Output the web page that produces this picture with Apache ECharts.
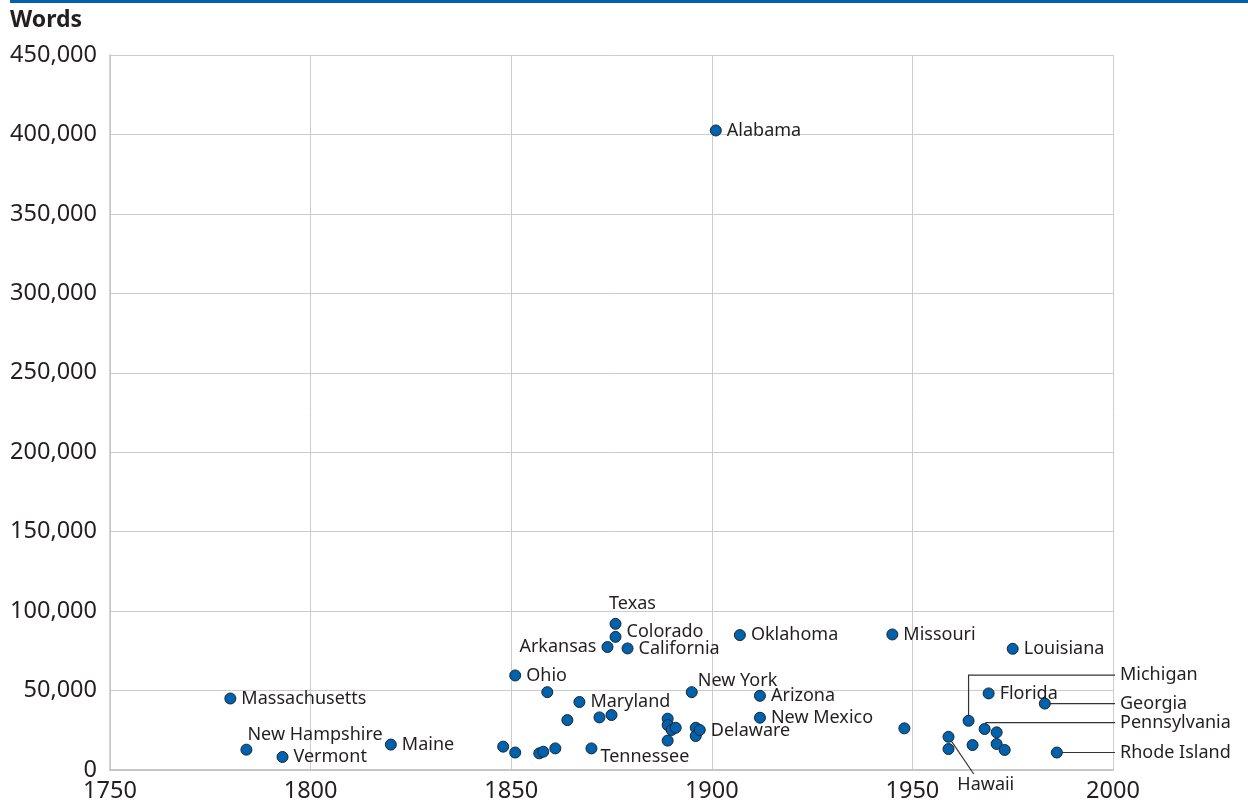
<!DOCTYPE html>
<html>
<head>
<meta charset="utf-8">
<title>Words in state constitutions</title>
<script src="https://cdn.jsdelivr.net/npm/echarts@6/dist/echarts.min.js"></script>
<style>
  html, body { margin: 0; padding: 0; background: #fff; }
  #chart { width: 1248px; height: 806px; }
</style>
</head>
<body>
<div id="chart"></div>
<script>
// Year each state constitution was adopted, and its length in words
const years = [
  1780, 1784, 1793, 1820, 1848, 1851, 1851, 1857, 1858, 1859,
  1861, 1864, 1867, 1870, 1872, 1874, 1875, 1876, 1876, 1879,
  1889, 1889, 1889, 1890, 1891, 1895, 1896, 1896, 1897, 1901,
  1907, 1912, 1912, 1945, 1948, 1959, 1959, 1964, 1965, 1968,
  1969, 1971, 1971, 1973, 1975, 1983, 1986
];
const wordCounts = [
  45000, 12800, 8200, 16000, 14700, 59500, 11000, 10500, 11500, 49000,
  13600, 31400, 42800, 13600, 33100, 77400, 34600, 92000, 83800, 76500,
  32300, 28300, 18500, 25200, 26600, 49000, 26600, 21400, 25200, 402500,
  84900, 46700, 32900, 85300, 26200, 20900, 13200, 31000, 15700, 25800,
  48200, 23700, 16400, 12600, 76300, 41800, 11000
];
const stateNames = [
  'Massachusetts', 'New Hampshire', 'Vermont', 'Maine', '', 'Ohio', '', '', '', '',
  '', '', 'Maryland', 'Tennessee', '', 'Arkansas', '', 'Texas', 'Colorado', 'California',
  '', '', '', '', '', 'New York', '', '', 'Delaware', 'Alabama',
  'Oklahoma', 'Arizona', 'New Mexico', 'Missouri', '', 'Hawaii', '', 'Michigan', '', 'Pennsylvania',
  'Florida', '', '', '', 'Louisiana', 'Georgia', 'Rhode Island'
];

// Axis ticks
const xTicks = { min: 1750, max: 2000, step: 50 };
const yTicks = { min: 0, max: 450000, step: 50000 };

// Names whose label sits somewhere other than just right of the dot
const labelSpots = {
  'Texas': { position: 'top', offset: [17, 0] },
  'Arkansas': { position: 'left', offset: [0, 0] },
  'Colorado': { position: 'right', offset: [0, -5] },
  'New York': { position: 'right', offset: [-5, -11] },
  'New Hampshire': { position: 'right', offset: [-10, -15] },
  'Tennessee': { position: 'right', offset: [-2, 8] },
  'Delaware': { position: 'right', offset: [0, 1] }
};

// Labels pulled out of the crowded corner with leader lines (bends in data units)
const callouts = [
  { name: 'Michigan', via: [[1964, 59700], [2000.5, 59700]], place: 'side' },
  { name: 'Georgia', via: [[2000.5, 41800]], place: 'side' },
  { name: 'Pennsylvania', via: [[1968.3, 29800], [2000.5, 29800]], place: 'side' },
  { name: 'Rhode Island', via: [[2000.5, 11000]], place: 'side' },
  { name: 'Hawaii', via: [[1965.3, -2500]], place: 'below' }
];

const FONT = '"Noto Sans", "Open Sans", sans-serif';
const TEXT = '#231f20';
const LABEL_SIZE = 18;
const calloutNames = callouts.map(c => c.name);

const points = years.map((yr, i) => {
  const name = stateNames[i];
  const item = { value: [yr, wordCounts[i]], name: name };
  if (name && calloutNames.indexOf(name) < 0) {
    const spot = labelSpots[name] || { position: 'right', offset: [0, 0] };
    item.label = {
      show: true,
      position: spot.position,
      offset: spot.offset,
      color: TEXT,
      fontSize: LABEL_SIZE,
      fontFamily: FONT,
      formatter: '{b}'
    };
  }
  return item;
});

const calloutData = callouts.map(c => {
  const i = stateNames.indexOf(c.name);
  return [years[i], wordCounts[i]];
});

const chart = echarts.init(document.getElementById('chart'), null, { renderer: 'canvas' });

chart.setOption({
  animation: false,
  backgroundColor: '#ffffff',
  textStyle: { fontFamily: FONT },
  graphic: [
    {
      type: 'rect',
      shape: { x: 10, y: 0, width: 1238, height: 3 },
      style: { fill: '#0062ac' },
      silent: true
    },
    {
      type: 'text',
      left: 10,
      top: 9,
      style: {
        text: 'Words',
        font: 'bold 23px ' + FONT,
        fill: TEXT
      },
      silent: true
    }
  ],
  grid: { left: 110, right: 135, top: 55, bottom: 36 },
  xAxis: {
    type: 'value',
    min: xTicks.min,
    max: xTicks.max,
    interval: xTicks.step,
    axisLine: { show: true, lineStyle: { color: '#c6c6c6', width: 2 } },
    axisTick: { show: false },
    axisLabel: {
      color: TEXT,
      fontSize: 23.5,
      fontFamily: FONT,
      margin: 9,
      formatter: v => String(v)
    },
    splitLine: { show: true, lineStyle: { color: '#cccccc', width: 1 } }
  },
  yAxis: {
    type: 'value',
    min: yTicks.min,
    max: yTicks.max,
    interval: yTicks.step,
    axisLine: { show: true, lineStyle: { color: '#c6c6c6', width: 1.5 } },
    axisTick: { show: false },
    axisLabel: {
      color: TEXT,
      fontSize: 23.5,
      fontFamily: FONT,
      margin: 13,
      formatter: v => v.toLocaleString('en-US')
    },
    splitLine: { show: true, lineStyle: { color: '#cccccc', width: 1 } }
  },
  series: [
    {
      type: 'custom',
      name: 'callouts',
      coordinateSystem: 'cartesian2d',
      clip: false,
      silent: true,
      z: 1,
      data: calloutData,
      renderItem: (params, api) => {
        const c = callouts[params.dataIndex];
        const start = [api.value(0), api.value(1)];
        const pts = [start].concat(c.via).map(p => api.coord(p));
        const end = pts[pts.length - 1];
        const label = c.place === 'below'
          ? {
              type: 'text',
              style: {
                x: end[0] + 12, y: end[1] + 2,
                text: c.name, align: 'center', verticalAlign: 'top',
                font: LABEL_SIZE + 'px ' + FONT, fill: TEXT
              }
            }
          : {
              type: 'text',
              style: {
                x: end[0] + 5, y: end[1],
                text: c.name, align: 'left', verticalAlign: 'middle',
                font: LABEL_SIZE + 'px ' + FONT, fill: TEXT
              }
            };
        return {
          type: 'group',
          children: [
            {
              type: 'polyline',
              shape: { points: pts },
              style: { stroke: '#333333', lineWidth: 1.2, fill: null }
            },
            label
          ]
        };
      }
    },
    {
      type: 'scatter',
      name: 'states',
      z: 3,
      symbol: 'circle',
      symbolSize: 11,
      itemStyle: { color: '#0062ac', borderColor: '#1c2430', borderWidth: 1, opacity: 1 },
      label: {
        show: false,
        color: TEXT,
        fontSize: LABEL_SIZE,
        fontFamily: FONT,
        distance: 5
      },
      emphasis: { disabled: true },
      data: points
    }
  ]
});
</script>
</body>
</html>
